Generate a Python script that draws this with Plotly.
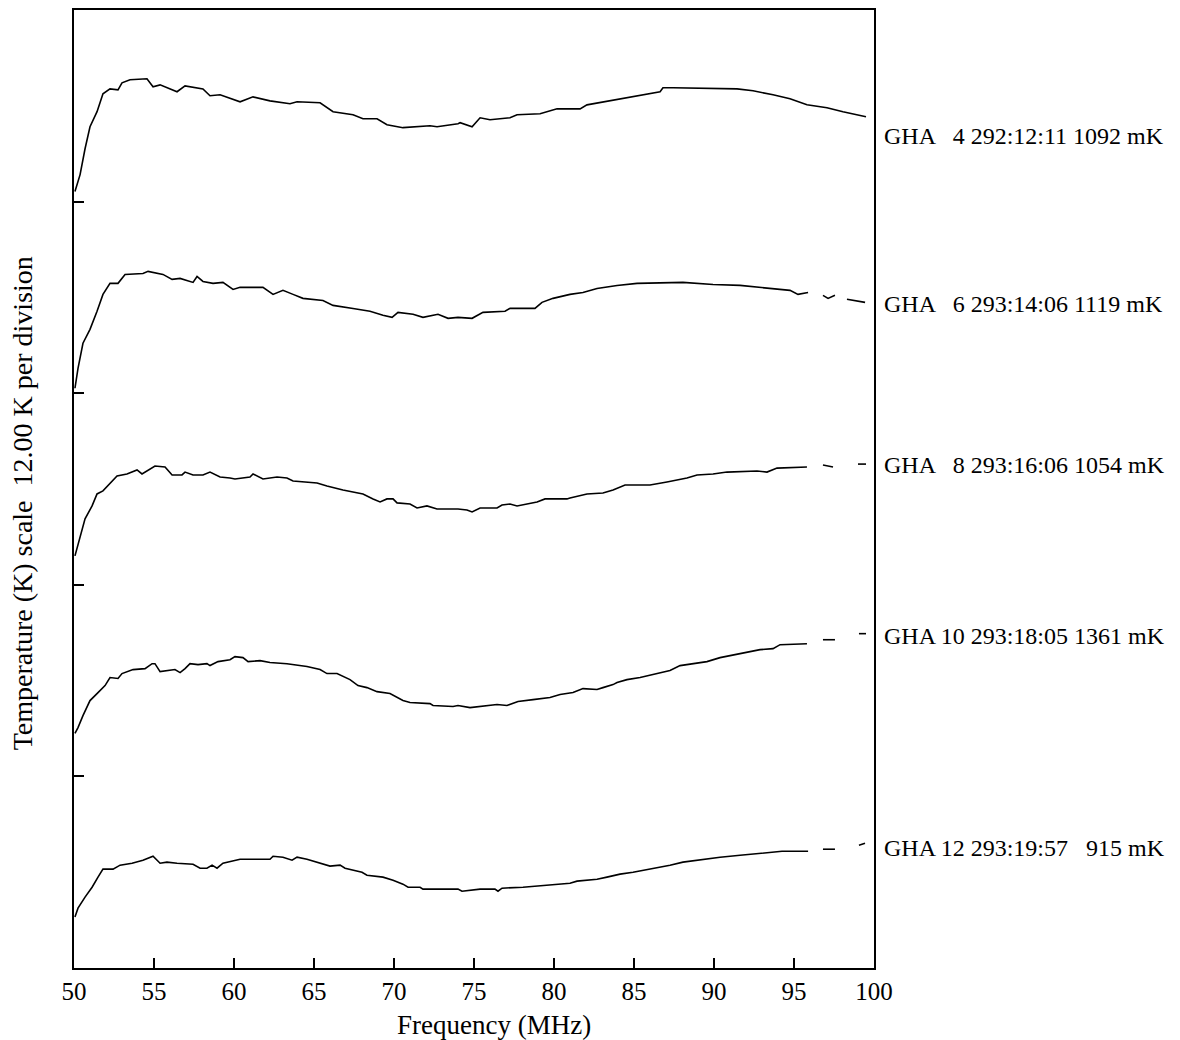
import plotly.graph_objects as go

# Frequency (MHz) and temperature (K, on the 0-60 K plotted scale) for each spectrum
f_gha4 = [50.06, 50.38, 50.69, 51.0, 51.44, 51.81, 52.25, 52.75, 53.0, 53.5, 54.56, 54.94, 55.38, 56.44,
          56.94, 58.06, 58.5, 59.13, 60.38, 61.19, 62.25, 63.5, 63.94, 65.38, 66.19, 67.44, 68.06, 68.94,
          69.56, 70.56, 72.25, 72.69, 74.0, 74.13, 74.88, 75.38, 76.0, 77.25, 77.69, 79.13, 80.19, 81.63,
          82.06, 83.5, 84.94, 86.63, 86.81, 87.44, 91.44, 92.44, 93.69, 94.75, 95.81, 97.06, 98.06, 99.31, 99.5]
t_gha4 = [48.63, 49.69, 51.31, 52.69, 53.63, 54.75, 55.06, 55.0, 55.44, 55.63, 55.69, 55.19, 55.31, 54.88,
          55.25, 55.06, 54.63, 54.69, 54.25, 54.56, 54.31, 54.13, 54.25, 54.19, 53.63, 53.44, 53.19, 53.19,
          52.81, 52.63, 52.75, 52.69, 52.88, 52.94, 52.69, 53.25, 53.13, 53.25, 53.44, 53.5, 53.81, 53.81,
          54.06, 54.31, 54.56, 54.88, 55.13, 55.13, 55.06, 54.94, 54.69, 54.44, 54.06, 53.88, 53.63, 53.38, 53.31]

f_gha6 = [50.06, 50.25, 50.56, 51.0, 51.44, 51.81, 52.25, 52.75, 53.19, 54.31, 54.63, 55.56, 56.13, 56.63,
          57.44, 57.69, 58.06, 58.69, 59.31, 59.94, 60.38, 61.81, 62.44, 63.06, 63.69, 64.31, 65.56, 66.19,
          67.44, 68.5, 69.31, 69.88, 70.25, 71.19, 71.81, 72.75, 73.38, 74.0, 74.88, 75.56, 76.94, 77.25,
          78.81, 79.25, 79.94, 81.0, 81.81, 82.69, 83.94, 85.19, 88.06, 89.94, 91.63, 93.5, 94.75, 95.25,
          95.88, 96.3, 96.81, 97.13, 97.56, 97.9, 98.31, 99.44]
t_gha6 = [36.31, 37.56, 39.13, 40.0, 41.13, 42.19, 42.88, 42.88, 43.44, 43.5, 43.63, 43.44, 43.13, 43.19,
          42.94, 43.31, 43.0, 42.88, 42.94, 42.5, 42.63, 42.63, 42.19, 42.44, 42.19, 41.94, 41.81, 41.5,
          41.31, 41.13, 40.88, 40.75, 41.06, 40.94, 40.75, 40.94, 40.69, 40.75, 40.69, 41.06, 41.13, 41.31,
          41.31, 41.69, 41.94, 42.19, 42.31, 42.56, 42.75, 42.88, 42.94, 42.81, 42.75, 42.56, 42.44, 42.19,
          42.31, None, 42.13, 41.94, 42.13, None, 41.88, 41.69]

f_gha8 = [50.06, 50.25, 50.69, 51.13, 51.44, 51.81, 52.69, 53.31, 53.94, 54.25, 55.06, 55.69, 56.13, 56.75,
          56.94, 57.44, 58.06, 58.5, 59.13, 59.75, 60.06, 61.0, 61.19, 61.81, 62.69, 63.31, 63.69, 65.19,
          65.81, 66.81, 68.06, 68.69, 69.13, 69.56, 69.94, 70.19, 71.0, 71.44, 72.06, 72.69, 74.0, 74.56,
          74.88, 75.38, 76.44, 76.75, 77.25, 77.69, 78.31, 78.94, 79.44, 80.81, 81.0, 82.06, 83.06, 83.69,
          84.44, 86.0, 87.06, 88.31, 88.94, 89.94, 90.81, 92.69, 93.31, 93.94, 95.81, 96.3, 96.81, 97.44,
          98.2, 99.0, 99.5]
t_gha8 = [25.81, 26.56, 28.13, 28.94, 29.69, 29.88, 30.81, 30.94, 31.19, 30.94, 31.44, 31.38, 30.88, 30.88,
          31.06, 30.88, 30.88, 31.06, 30.75, 30.69, 30.63, 30.75, 30.94, 30.63, 30.75, 30.69, 30.5, 30.38,
          30.19, 29.94, 29.69, 29.38, 29.19, 29.38, 29.38, 29.13, 29.06, 28.81, 28.94, 28.75, 28.75, 28.69,
          28.56, 28.81, 28.81, 29.0, 29.06, 28.94, 29.06, 29.19, 29.38, 29.38, 29.44, 29.69, 29.75, 29.94,
          30.25, 30.25, 30.44, 30.69, 30.88, 30.94, 31.06, 31.13, 31.06, 31.31, 31.38, None, 31.5, 31.38,
          None, 31.56, 31.56]

f_gha10 = [50.06, 50.25, 50.56, 51.0, 51.5, 51.94, 52.25, 52.75, 53.0, 53.69, 54.44, 54.88, 55.06, 55.38,
           56.31, 56.63, 56.94, 57.25, 57.75, 58.31, 58.5, 59.0, 59.75, 60.06, 60.56, 60.88, 61.63, 62.25,
           63.31, 64.56, 65.38, 65.81, 66.44, 67.25, 67.75, 68.31, 68.94, 69.75, 70.56, 71.0, 72.25, 72.44,
           73.69, 74.0, 74.75, 76.44, 77.06, 77.75, 78.69, 79.75, 80.38, 81.19, 81.81, 82.69, 83.06, 83.69,
           83.94, 84.56, 85.38, 86.19, 87.25, 87.88, 88.69, 89.56, 90.38, 91.0, 91.81, 92.88, 93.69, 94.13,
           95.81, 96.3, 96.81, 97.56, 98.3, 99.06, 99.5]
t_gha10 = [14.69, 15.06, 15.81, 16.75, 17.25, 17.69, 18.19, 18.13, 18.44, 18.69, 18.75, 19.06, 19.06, 18.56,
           18.69, 18.5, 18.75, 19.06, 19.0, 19.06, 18.94, 19.19, 19.31, 19.5, 19.44, 19.19, 19.25, 19.13,
           19.06, 18.88, 18.69, 18.44, 18.44, 18.06, 17.69, 17.56, 17.31, 17.19, 16.75, 16.63, 16.56, 16.44,
           16.38, 16.44, 16.31, 16.5, 16.44, 16.69, 16.81, 16.94, 17.13, 17.25, 17.5, 17.44, 17.56, 17.75,
           17.88, 18.06, 18.19, 18.38, 18.63, 18.94, 19.06, 19.19, 19.44, 19.56, 19.75, 19.94, 20.0, 20.25,
           20.31, None, 20.56, 20.56, None, 20.94, 20.94]

f_gha12 = [50.06, 50.25, 50.69, 51.13, 51.5, 51.81, 52.44, 52.88, 53.63, 54.31, 54.94, 55.38, 55.81, 56.44,
           57.44, 57.88, 58.31, 58.63, 58.94, 59.31, 60.38, 62.25, 62.44, 63.06, 63.63, 63.94, 64.56, 65.56,
           66.0, 66.63, 66.94, 68.0, 68.31, 69.31, 69.94, 70.56, 70.88, 71.63, 71.81, 74.0, 74.25, 75.38,
           76.31, 76.5, 76.75, 78.06, 79.94, 81.0, 81.44, 82.69, 83.31, 84.13, 84.94, 86.0, 87.25, 88.06,
           89.31, 90.38, 91.63, 92.88, 94.25, 95.88, 96.3, 96.81, 97.56, 98.3, 99.06, 99.44]
t_gha12 = [3.19, 3.75, 4.44, 5.06, 5.69, 6.19, 6.19, 6.44, 6.56, 6.75, 7.0, 6.56, 6.63, 6.56,
           6.5, 6.25, 6.25, 6.44, 6.25, 6.56, 6.81, 6.81, 7.0, 6.94, 6.75, 6.94, 6.81, 6.5,
           6.38, 6.44, 6.25, 6.0, 5.81, 5.69, 5.5, 5.25, 5.06, 5.06, 4.94, 4.94, 4.81, 4.94,
           4.94, 4.81, 5.0, 5.06, 5.19, 5.31, 5.44, 5.56, 5.69, 5.88, 6.0, 6.19, 6.44, 6.63,
           6.81, 6.94, 7.06, 7.19, 7.31, 7.31, None, 7.44, 7.44, None, 7.69, 7.81]

labels = ["GHA \u00a0\u00a04 292:12:11 1092 mK",
          "GHA \u00a0\u00a06 293:14:06 1119 mK",
          "GHA \u00a0\u00a08 293:16:06 1054 mK",
          "GHA 10 293:18:05 1361 mK",
          "GHA 12 293:19:57 \u00a0\u00a0915 mK"]
label_y = [52.1, 41.6, 31.5, 20.8, 7.5]

x_ticks = [50, 55, 60, 65, 70, 75, 80, 85, 90, 95, 100]
y_ticks = [12, 24, 36, 48]

x_title = "Frequency (MHz)"
y_title = "Temperature (K) scale  12.00 K per division"

series = [(f_gha4, t_gha4), (f_gha6, t_gha6), (f_gha8, t_gha8), (f_gha10, t_gha10), (f_gha12, t_gha12)]

FONT = "Liberation Serif"

fig = go.Figure()
for (fx, ty), lab in zip(series, labels):
    fig.add_trace(go.Scatter(x=fx, y=ty, mode="lines", connectgaps=False,
                             line=dict(color="black", width=1.6), name=lab, showlegend=False))

for lab, ly in zip(labels, label_y):
    fig.add_annotation(x=1.01, xref="paper", y=ly, yref="y", text=lab, showarrow=False,
                       xanchor="left", yanchor="middle", font=dict(family=FONT, size=24, color="black"))

# axis titles (placed as in the original figure)
fig.add_annotation(x=0.525, y=-0.0595, xref="paper", yref="paper", text=x_title, showarrow=False,
                   xanchor="center", yanchor="middle", font=dict(family=FONT, size=27, color="black"))
fig.add_annotation(x=-0.065, y=0.485, xref="paper", yref="paper", text=y_title, showarrow=False,
                   textangle=-90, xanchor="center", yanchor="middle",
                   font=dict(family=FONT, size=28, color="black"))

fig.update_layout(
    width=1180, height=1040,
    margin=dict(l=66, r=314, t=0, b=80),
    paper_bgcolor="white", plot_bgcolor="white",
    font=dict(family=FONT, color="black"),
)
fig.update_xaxes(range=[50, 100], tickvals=x_ticks, ticks="inside", ticklen=10, tickwidth=1.5,
                 tickcolor="black", showline=True, linecolor="black", linewidth=2, mirror=True,
                 showgrid=False, zeroline=False, tickfont=dict(family=FONT, size=25, color="black"))
fig.update_yaxes(range=[0, 60], tickvals=y_ticks, ticks="inside", ticklen=10, tickwidth=1.5,
                 tickcolor="black", showline=True, linecolor="black", linewidth=2, mirror=True,
                 showgrid=False, zeroline=False, showticklabels=False)

fig.write_html("out.html")
